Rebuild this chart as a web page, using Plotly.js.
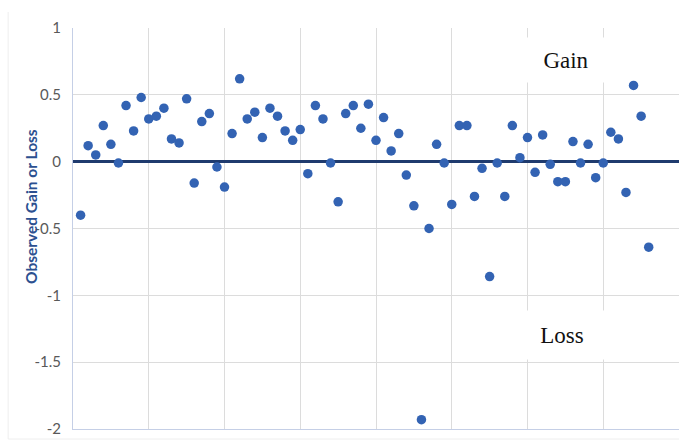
<!DOCTYPE html>
<html>
<head>
<meta charset="utf-8">
<script src="https://cdn.plot.ly/plotly-3.0.1.min.js"></script>
<style>html,body{margin:0;padding:0;background:#fff;}#chart{width:694px;height:442px;}</style>
</head>
<body>
<div id="chart"></div>
<script>
// Observation index (1..76)
var obsIndex = [];
for (var i = 1; i <= 76; i++) obsIndex.push(i);

// Observed gain or loss values
var gainLoss = [
  -0.40, 0.12, 0.05, 0.27, 0.13, -0.01, 0.42, 0.23, 0.48, 0.32,
  0.34, 0.40, 0.17, 0.14, 0.47, -0.16, 0.30, 0.36, -0.04, -0.19,
  0.21, 0.62, 0.32, 0.37, 0.18, 0.40, 0.34, 0.23, 0.16, 0.24,
  -0.09, 0.42, 0.32, -0.01, -0.30, 0.36, 0.42, 0.25, 0.43, 0.16,
  0.33, 0.08, 0.21, -0.10, -0.33, -1.93, -0.50, 0.13, -0.01, -0.32,
  0.27, 0.27, -0.26, -0.05, -0.86, -0.01, -0.26, 0.27, 0.03, 0.18,
  -0.08, 0.20, -0.02, -0.15, -0.15, 0.15, -0.01, 0.13, -0.12, -0.01,
  0.22, 0.17, -0.23, 0.57, 0.34, -0.64
];

var yTickVals = [1, 0.5, 0, -0.5, -1, -1.5, -2];
var yTickLabels = ['1', '0.5', '0', '-0.5', '-1', '-1.5', '-2'];
var yTitle = 'Observed Gain or Loss';
var labelGain = 'Gain';
var labelLoss = 'Loss';

var trace = {
  x: obsIndex,
  y: gainLoss,
  type: 'scatter',
  mode: 'markers',
  marker: {color: '#3363B3', size: 9.5, line: {width: 0}},
  hoverinfo: 'x+y'
};

var layout = {
  width: 694,
  height: 442,
  margin: {l: 73, r: 15, t: 28, b: 13},
  paper_bgcolor: '#ffffff',
  plot_bgcolor: '#ffffff',
  showlegend: false,
  font: {family: 'Lato, "Open Sans", sans-serif', color: '#595959'},
  xaxis: {
    range: [0, 80],
    dtick: 10,
    tick0: 0,
    showticklabels: false,
    showgrid: true,
    gridcolor: '#DCDCDC',
    gridwidth: 1,
    zeroline: false,
    showline: true,
    linecolor: '#C5CFE6',
    linewidth: 1,
    mirror: false,
    ticks: '',
    fixedrange: true
  },
  yaxis: {
    range: [-2, 1],
    tickvals: yTickVals,
    ticktext: yTickLabels,
    tickfont: {size: 15, color: '#595959', family: 'Lato, sans-serif'},
    ticks: 'outside',
    ticklen: 8,
    tickcolor: 'rgba(0,0,0,0)',
    showgrid: true,
    gridcolor: '#DCDCDC',
    gridwidth: 1,
    zeroline: true,
    zerolinecolor: '#1F3B6E',
    zerolinewidth: 3,
    showline: true,
    linecolor: '#C5CFE6',
    linewidth: 1,
    fixedrange: true
  },
  shapes: [
    {type: 'line', xref: 'paper', yref: 'paper', x0: -0.107, x1: -0.107, y0: 1.04, y1: -0.025,
     line: {color: '#EEEEEE', width: 1}},
    {type: 'line', xref: 'paper', yref: 'paper', x0: -0.107, x1: 1.0, y0: -0.025, y1: -0.025,
     line: {color: '#EEEEEE', width: 1}}
  ],
  annotations: [
    {
      xref: 'paper', yref: 'paper',
      x: -0.0875, y: 0.556,
      text: '<b>' + yTitle + '</b>',
      textangle: -90,
      showarrow: false,
      font: {family: 'Lato, sans-serif', size: 15.5, color: '#2C5090'}
    },
    {
      xref: 'x', yref: 'y',
      x: 65.1, y: 0.76,
      text: labelGain,
      showarrow: false,
      bgcolor: '#ffffff',
      width: 88, height: 42,
      font: {family: '"Liberation Serif", "DejaVu Serif", serif', size: 23, color: '#111111'}
    },
    {
      xref: 'x', yref: 'y',
      x: 64.5, y: -1.30,
      text: labelLoss,
      showarrow: false,
      bgcolor: '#ffffff',
      width: 90, height: 46,
      font: {family: '"Liberation Serif", "DejaVu Serif", serif', size: 23, color: '#111111'}
    }
  ]
};

Plotly.newPlot('chart', [trace], layout, {displayModeBar: false, staticPlot: true});
</script>
</body>
</html>
